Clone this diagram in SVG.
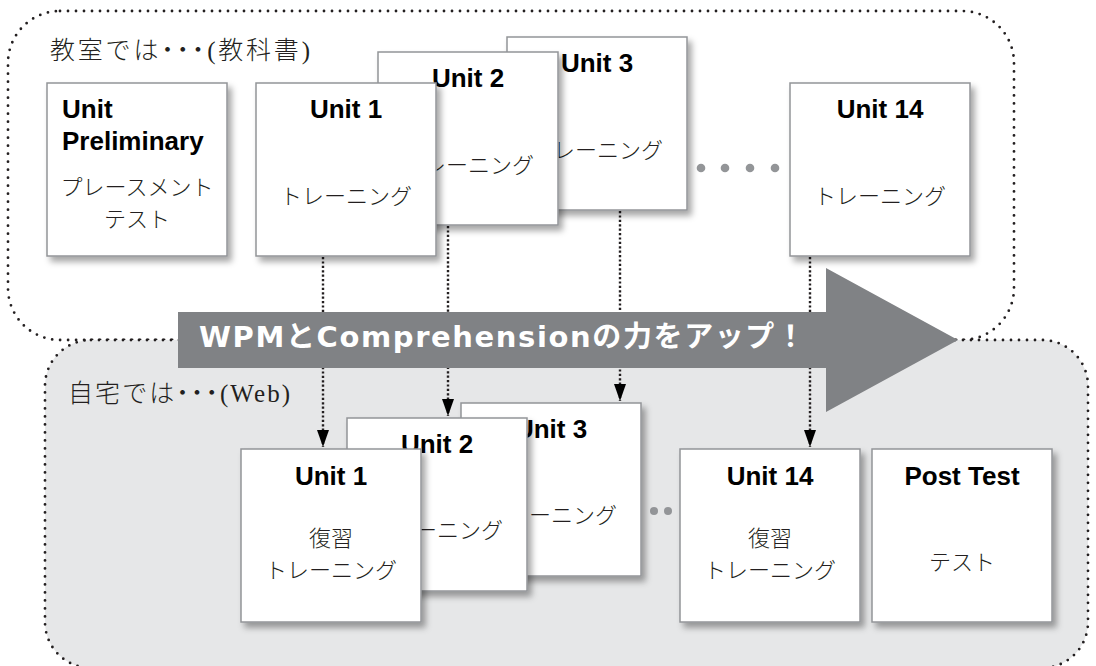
<svg xmlns="http://www.w3.org/2000/svg" width="1096" height="666" viewBox="0 0 1096 666">
<defs>
<style>
.region{stroke:#231f20;stroke-width:2.8;stroke-dasharray:0 8;stroke-linecap:round}
.box{fill:#fff;stroke:#939598;stroke-width:1.5;filter:url(#sh)}
.title{font-family:"Liberation Sans",Arial,sans-serif;font-weight:bold;font-size:26px;fill:#000}
.jp{font-family:"Noto Sans CJK JP",sans-serif;font-weight:300;font-size:22px;fill:#231f20;text-anchor:middle}
.label{font-family:"Liberation Serif","Noto Sans CJK JP",serif;font-weight:300;font-size:25px;fill:#231f20}
.pd{font-feature-settings:"palt"}
.conn{stroke:#231f20;stroke-width:2.4;stroke-dasharray:2.2 2.2;fill:none;marker-end:url(#ah)}
.dot{fill:#939598}
.mid{text-anchor:middle}
.banner{font-family:"DejaVu Sans","Noto Sans CJK JP",sans-serif;font-weight:bold;font-size:29px;fill:#fff}
</style>
<filter id="sh" x="-10%" y="-10%" width="130%" height="130%">
<feDropShadow dx="4" dy="5" stdDeviation="3" flood-color="#000" flood-opacity="0.35"/>
</filter>
<marker id="ah" markerUnits="userSpaceOnUse" markerWidth="18" markerHeight="14" refX="17" refY="6.5" orient="auto">
<path d="M0,0.5 L17,6.5 L0,12.5 Z" fill="#000"/>
</marker>
</defs>

<g id="region-classroom">
<rect class="region" x="8" y="11" width="1006" height="329" rx="52" ry="52" fill="#fff"/>
<text class="label" x="50" y="59" textLength="260" lengthAdjust="spacing">教室では<tspan class="pd">・・・</tspan>(教科書)</text>
</g>
<g id="region-home">
<rect class="region" x="45" y="340" width="1043" height="328" rx="46" ry="46" fill="#e6e7e8"/>
<text class="label" x="68" y="402" textLength="222" lengthAdjust="spacing">自宅では<tspan class="pd">・・・</tspan>(Web)</text>
</g>

<g id="connectors">
<path class="conn" d="M323,257 V447"/>
<path class="conn" d="M448,226 V416"/>
<path class="conn" d="M620,211 V401"/>
<path class="conn" d="M810,257 V447"/>
</g>

<g id="arrow">
<polygon points="178,312 826,312 826,268 958,340 826,412 826,368 178,368" fill="#808285"/>
<text class="banner" x="199" y="347" textLength="606" lengthAdjust="spacing">WPMとComprehensionの力をアップ！</text>
</g>

<g id="top-dots">
<circle class="dot" cx="701" cy="168" r="4.3"/>
<circle class="dot" cx="725" cy="168" r="4.3"/>
<circle class="dot" cx="750" cy="168" r="4.3"/>
<circle class="dot" cx="775" cy="168" r="4.3"/>
</g>
<g id="bottom-dots">
<circle class="dot" cx="654" cy="511" r="4"/>
<circle class="dot" cx="668" cy="511" r="4"/>
</g>

<g id="t-prelim">
<rect class="box" x="47" y="83" width="180" height="173"/>
<text class="title" x="62" y="118">Unit</text>
<text class="title" x="62" y="150">Preliminary</text>
<text class="jp" x="137" y="195">プレースメント</text>
<text class="jp" x="137" y="227">テスト</text>
</g>
<g id="t-unit3">
<rect class="box" x="507" y="37" width="180" height="173"/>
<text class="title mid" x="597" y="72">Unit 3</text>
<text class="jp" x="597" y="158">トレーニング</text>
</g>
<g id="t-unit2">
<rect class="box" x="378" y="52" width="180" height="173"/>
<text class="title mid" x="468" y="87">Unit 2</text>
<text class="jp" x="468" y="173">トレーニング</text>
</g>
<g id="t-unit1">
<rect class="box" x="256" y="83" width="180" height="173"/>
<text class="title mid" x="346" y="118">Unit 1</text>
<text class="jp" x="346" y="204">トレーニング</text>
</g>
<g id="t-unit14">
<rect class="box" x="790" y="83" width="180" height="173"/>
<text class="title mid" x="880" y="118">Unit 14</text>
<text class="jp" x="880" y="204">トレーニング</text>
</g>

<g id="b-unit3">
<rect class="box" x="461" y="403" width="180" height="173"/>
<text class="title mid" x="551" y="438">Unit 3</text>
<text class="jp" x="551" y="523">トレーニング</text>
</g>
<g id="b-unit2">
<rect class="box" x="347" y="418" width="180" height="173"/>
<text class="title mid" x="437" y="453">Unit 2</text>
<text class="jp" x="437" y="538">トレーニング</text>
</g>
<g id="b-unit1">
<rect class="box" x="241" y="449" width="180" height="173"/>
<text class="title mid" x="331" y="485">Unit 1</text>
<text class="jp" x="331" y="546">復習</text>
<text class="jp" x="331" y="578">トレーニング</text>
</g>
<g id="b-unit14">
<rect class="box" x="680" y="449" width="180" height="173"/>
<text class="title mid" x="770" y="485">Unit 14</text>
<text class="jp" x="770" y="546">復習</text>
<text class="jp" x="770" y="578">トレーニング</text>
</g>
<g id="b-post">
<rect class="box" x="872" y="449" width="180" height="173"/>
<text class="title mid" x="962" y="485">Post Test</text>
<text class="jp" x="962" y="570" font-size="25">テスト</text>
</g>
</svg>
